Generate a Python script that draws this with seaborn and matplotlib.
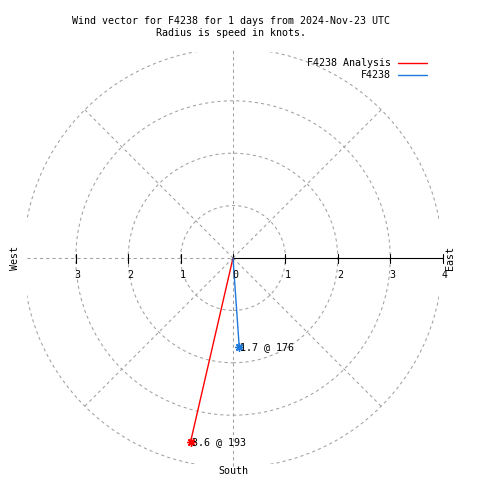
import numpy as np
import pandas as pd
import matplotlib
matplotlib.use("Agg")
import matplotlib.pyplot as plt
import seaborn as sns
from matplotlib.lines import Line2D
from matplotlib.patches import Circle, Rectangle

# ---- data ----
title_line1 = "Wind vector for F4238 for 1 days from 2024-Nov-23 UTC"
title_line2 = "Radius is speed in knots."
series_names = ["F4238 Analysis", "F4238"]
speeds = [3.6, 1.7]
directions = [193, 176]
series_colors = ["#ff0000", "#1e78dc"]
ring_radii = [1, 2, 3, 4]
tick_values = [-3, -2, -1, 0, 1, 2, 3, 4]
tick_labels = ["3", "2", "1", "0", "1", "2", "3", "4"]

# ---- style ----
sns.set_theme(style="white")
plt.rcParams["font.family"] = ["DejaVu Sans Mono"]
plt.rcParams["text.color"] = "black"
FS = 7.2
GRID = "#a0a0a0"
DASH = (0, (3, 3))

fig = plt.figure(figsize=(4.8, 4.8), dpi=100)
ax = fig.add_axes([0, 0, 1, 1])
scale = 52.4
cx, cy = 233, 258
ax.set_xlim(-cx / scale, (480 - cx) / scale)
ax.set_ylim(-(480 - cy) / scale, cy / scale)
ax.axis("off")

clip = Rectangle((-3.93, -3.93), 7.86, 7.86, transform=ax.transData)

# rings
for r in ring_radii:
    c = Circle((0, 0), r, fill=False, ec=GRID, lw=0.75, ls=DASH)
    ax.add_patch(c)
    c.set_clip_path(clip)

# radial grid lines
for ang in [45, 135, 225, 315]:
    a = np.deg2rad(ang)
    ax.plot([0, 4 * np.cos(a)], [0, 4 * np.sin(a)], color=GRID, lw=0.75, ls=DASH, clip_on=False)
ax.plot([0, 0], [-3.96, 3.96], color=GRID, lw=0.75, ls=DASH, clip_on=False)
ax.plot([-3.94, 0], [0, 0], color=GRID, lw=0.75, ls=DASH, clip_on=False)

# radial axis (east)
ax.plot([0, 4], [0, 0], color="black", lw=0.8, clip_on=False)
for t, lab in zip(tick_values, tick_labels):
    ax.plot([t, t], [-4.5 / scale, 4.5 / scale], color="black", lw=0.8, clip_on=False)
    ax.text(t + 2 / scale, -17 / scale, lab, ha="center", va="center", fontsize=FS, color="black")

# vectors
rows = []
for name, s, d in zip(series_names, speeds, directions):
    a = np.deg2rad(d)
    rows.append({"series": name, "x": 0.0, "y": 0.0, "k": 0})
    rows.append({"series": name, "x": s * np.sin(a), "y": s * np.cos(a), "k": 1})
df = pd.DataFrame(rows)
palette = dict(zip(series_names, series_colors))
sns.lineplot(data=df, x="x", y="y", hue="series", palette=palette, sort=False,
             estimator=None, legend=False, lw=1.0, ax=ax)
ax.set_xlim(-cx / scale, (480 - cx) / scale)
ax.set_ylim(-(480 - cy) / scale, cy / scale)
ax.axis("off")

ends = df[df["k"] == 1]
for (_, row), s, d, col in zip(ends.iterrows(), speeds, directions, series_colors):
    ax.plot([row["x"]], [row["y"]], marker=(8, 2, 0), ms=6, mew=1.0, color=col, ls="none")
    ax.text(row["x"] + 1 / scale, row["y"], f"{s} @ {d}", ha="left", va="center",
            fontsize=FS, color="black")

# compass labels
ax.text(0, -(471 - cy) / scale, "South", ha="center", va="center", fontsize=FS, color="black")
ax.text((15 - cx) / scale, 0, "West", ha="center", va="center", rotation=90, fontsize=FS, color="black")
ax.text((450 - cx) / scale, 0, "East", ha="center", va="center", rotation=90, fontsize=FS, color="black")

# titles
fig.text(231 / 480, 1 - 20.7 / 480, title_line1, ha="center", va="center", fontsize=FS, color="black")
fig.text(231 / 480, 1 - 33.3 / 480, title_line2, ha="center", va="center", fontsize=FS, color="black")

# legend
handles = [Line2D([], [], color=c, lw=1.0) for c in series_colors]
leg = ax.legend(handles, series_names, loc="upper right",
                bbox_to_anchor=(427 / 480, 1 - 58 / 480), bbox_transform=fig.transFigure,
                frameon=False, markerfirst=False, handlelength=2.9, handletextpad=0.67,
                labelspacing=0.2, borderpad=0, borderaxespad=0,
                prop={"family": "DejaVu Sans Mono", "size": FS})
for t in leg.get_texts():
    t.set_color("black")

fig.savefig("out.png", dpi=100)
